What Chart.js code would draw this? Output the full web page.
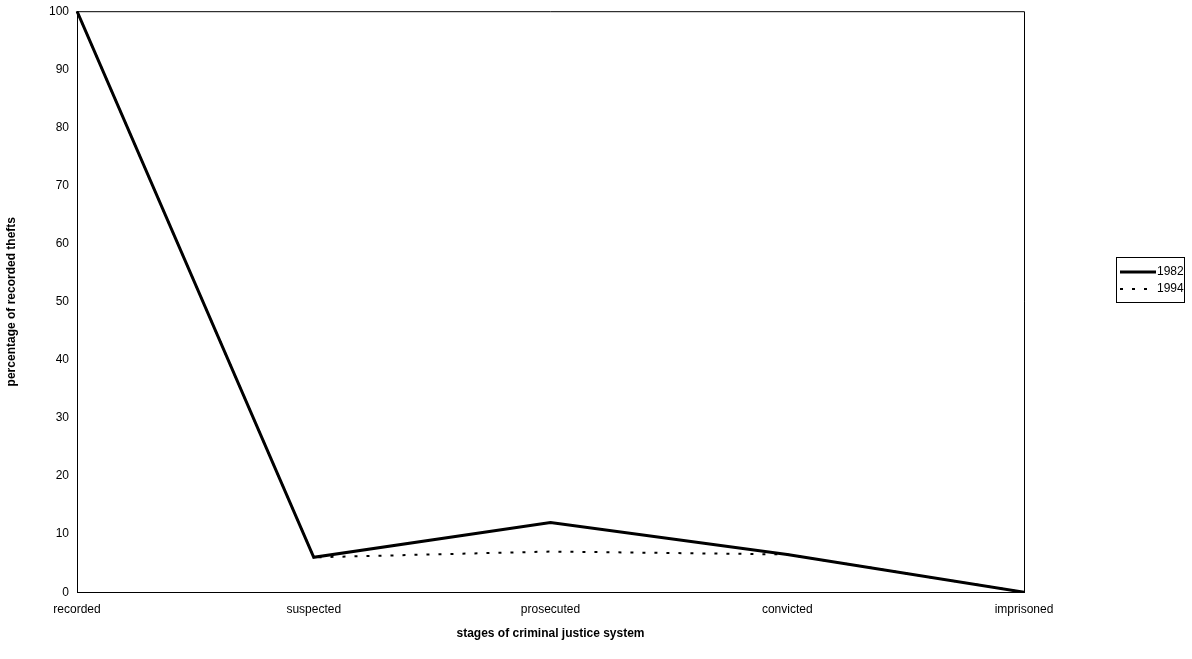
<!DOCTYPE html>
<html><head><meta charset="utf-8">
<script src="https://cdn.jsdelivr.net/npm/chart.js@4/dist/chart.umd.min.js"></script>
<style>html,body{margin:0;background:#fff}#wrap{width:1192px;height:659px}</style>
</head><body><div id="wrap"><canvas id="c"></canvas></div>
<script>
var stages = ['recorded', 'suspected', 'prosecuted', 'convicted', 'imprisoned'];
var y1982 = [100, 6, 12, 6.5, 0];
var y1994 = [100, 6, 7, 6.5, 0];
var yTicks = [0, 10, 20, 30, 40, 50, 60, 70, 80, 90, 100];

var boxLegend = {
  id: 'boxLegend',
  afterDraw: function (chart) {
    var ctx = chart.ctx, x = 1116, y = 257, w = 68, h = 45;
    ctx.save();
    ctx.strokeStyle = '#000'; ctx.lineWidth = 1;
    ctx.strokeRect(x + 0.5, y + 0.5, w, h);
    ctx.font = '12px Arial, "Liberation Sans"';
    ctx.fillStyle = '#000'; ctx.textBaseline = 'middle';
    chart.data.datasets.forEach(function (ds, i) {
      var ly = y + 15 + i * 17;
      ctx.beginPath();
      ctx.lineWidth = ds.borderWidth;
      ctx.setLineDash(ds.borderDash || []);
      ctx.moveTo(x + 4, ly); ctx.lineTo(x + 40, ly); ctx.stroke();
      ctx.setLineDash([]);
      ctx.fillText(ds.label, x + 41, ly);
    });
    var a = chart.chartArea;
    ctx.lineWidth = 1;
    ctx.beginPath();
    ctx.moveTo(a.left, a.top + 0.5); ctx.lineTo(a.right + 0.5, a.top + 0.5); ctx.lineTo(a.right + 0.5, a.bottom);
    ctx.stroke();
    ctx.restore();
  }
};

new Chart(document.getElementById('c'), {
  type: 'line',
  data: {
    labels: stages,
    datasets: [
      { label: '1982', data: y1982, borderColor: '#000', borderWidth: 3, pointRadius: 0, tension: 0, order: 0 },
      { label: '1994', data: y1994, borderColor: '#000', borderWidth: 2, borderDash: [3, 9], pointRadius: 0, tension: 0, order: 1 }
    ]
  },
  options: {
    responsive: true, maintainAspectRatio: false, animation: false,
    layout: { padding: { top: 9, right: 168, left: 0, bottom: 14 } },
    plugins: { legend: { display: false }, tooltip: { enabled: false } },
    scales: {
      x: {
        offset: false,
        grid: { display: false, drawTicks: true, tickLength: 4, color: '#000' },
        border: { color: '#000', width: 1 },
        ticks: { color: '#000', font: { size: 12, family: 'Arial, "Liberation Sans"' }, maxRotation: 0, padding: 6 },
        title: { display: true, text: 'stages of criminal justice system', color: '#000', font: { size: 12, weight: 'bold', family: 'Arial, "Liberation Sans"' }, padding: { top: 4 } }
      },
      y: {
        min: 0, max: 100,
        afterFit: function (s) { s.width = 77; },
        afterBuildTicks: function (s) { s.ticks = yTicks.map(function (v) { return { value: v }; }); },
        grid: { display: false, drawTicks: true, tickLength: 4 },
        border: { color: '#000', width: 1 },
        ticks: { color: '#000', font: { size: 12, family: 'Arial, "Liberation Sans"' }, padding: 4 },
        title: { display: true, text: 'percentage of recorded thefts', color: '#000', font: { size: 12, weight: 'bold', family: 'Arial, "Liberation Sans"' }, padding: { bottom: 8 } }
      }
    }
  },
  plugins: [boxLegend]
});
</script></body></html>
